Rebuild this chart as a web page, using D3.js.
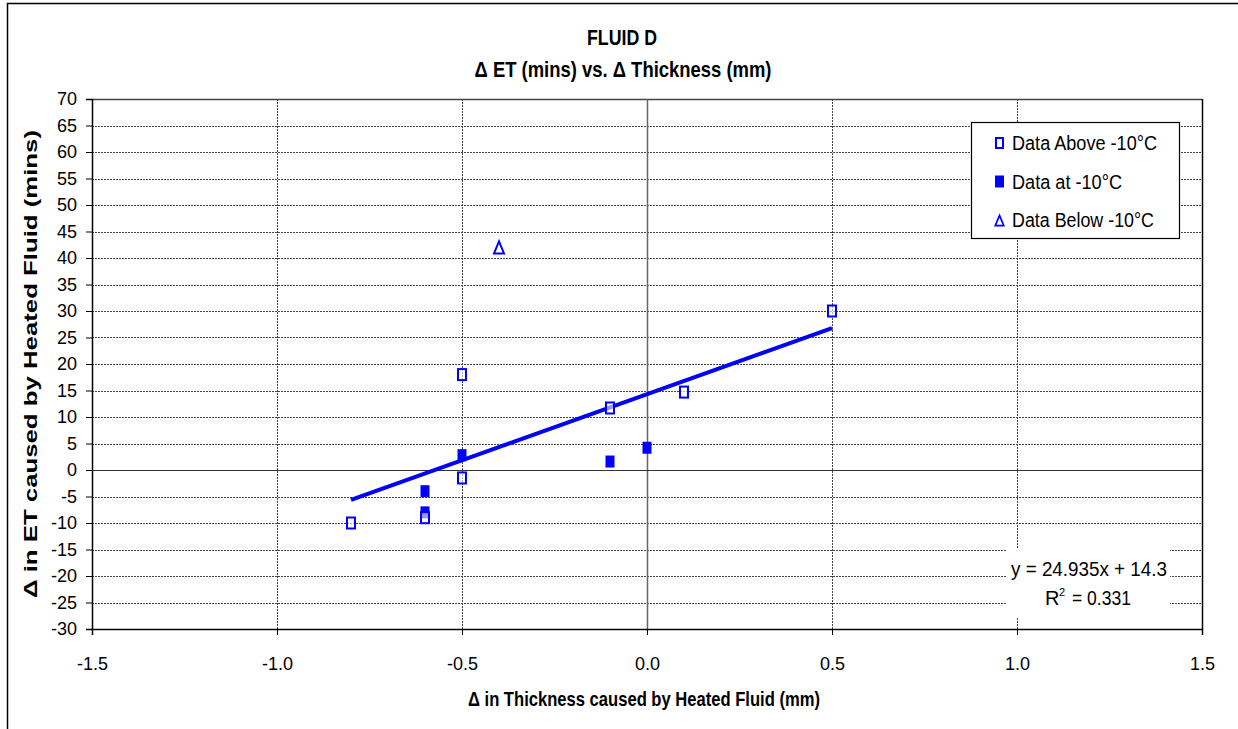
<!DOCTYPE html>
<meta charset="utf-8">
<style>
body { margin: 0; background: #fff; }
svg { font-family: "Liberation Sans", Arial, sans-serif; }
</style>
<script src="https://d3js.org/d3.v7.min.js"></script>
<svg width="1238" height="729"></svg>
<script>
// data
var aboveX = [-0.8, -0.6, -0.5, -0.5, -0.1, 0.1, 0.5],
    aboveY = [-10, -9, 18, -1.5, 11.7, 14.7, 30];
var atX = [-0.6, -0.6, -0.5, -0.1, 0.0],
    atY = [-4, -8, 2.8, 1.6, 4.2];
var belowX = [-0.4],
    belowY = [42];
var xTicks = [-1.5, -1.0, -0.5, 0.0, 0.5, 1.0, 1.5],
    yTicks = d3.range(-30, 71, 5);
var trend = { slope: 24.935, icept: 14.3, r2: 0.331, from: -0.8, to: 0.5 };

var svg = d3.select("svg");
var blue = "#0000ff";

var x = d3.scaleLinear().domain([-1.5, 1.5]).range([92, 1202]),
    y = d3.scaleLinear().domain([-30, 70]).range([629, 99]);

// squeeze text to a given width (the original uses a condensed face)
function fit(sel, w) {
  return sel.attr("textLength", w).attr("lengthAdjust", "spacingAndGlyphs");
}

// outer frame
svg.append("rect").attr("x", 7.5).attr("y", 3.5).attr("width", 1240).attr("height", 740)
    .attr("fill", "none").attr("stroke", "#000").attr("stroke-width", 1.5);

// grid
svg.append("g").selectAll("line").data(yTicks.filter(function(d) { return d != 0 && d != -30; }))
  .enter().append("line")
    .attr("x1", x(-1.5)).attr("x2", x(1.5))
    .attr("y1", function(d) { return Math.round(y(d)) + 0.5; })
    .attr("y2", function(d) { return Math.round(y(d)) + 0.5; })
    .attr("stroke", "#444").attr("stroke-dasharray", "2,1");
svg.append("g").selectAll("line").data(xTicks.filter(function(d) { return d != 0 && d != -1.5 && d != 1.5; }))
  .enter().append("line")
    .attr("y1", y(-30)).attr("y2", y(70))
    .attr("x1", function(d) { return Math.round(x(d)) + 0.5; })
    .attr("x2", function(d) { return Math.round(x(d)) + 0.5; })
    .attr("stroke", "#444").attr("stroke-dasharray", "2,1");

// top border, zero lines, right border
svg.append("line").attr("x1", x(-1.5)).attr("x2", x(1.5)).attr("y1", y(70) + 0.5).attr("y2", y(70) + 0.5)
    .attr("stroke", "#444").attr("stroke-width", 1.5);
svg.append("line").attr("x1", x(0) + 0.5).attr("x2", x(0) + 0.5).attr("y1", y(-30)).attr("y2", y(70))
    .attr("stroke", "#666").attr("stroke-width", 1.5);
svg.append("line").attr("x1", x(-1.5)).attr("x2", x(1.5)).attr("y1", Math.round(y(0)) + 0.5).attr("y2", Math.round(y(0)) + 0.5)
    .attr("stroke", "#333").attr("stroke-width", 1.2);
svg.append("line").attr("x1", x(1.5) + 0.5).attr("x2", x(1.5) + 0.5).attr("y1", y(-30)).attr("y2", y(70))
    .attr("stroke", "#000").attr("stroke-width", 1.5);

// axes
var hy = function(s) { return s.replace("\u2212", "-"); };
var yAxis = svg.append("g").attr("transform", "translate(" + x(-1.5) + ",0)")
    .call(d3.axisLeft(y).tickValues(yTicks).tickSize(6).tickPadding(9)
      .tickFormat(function(d) { return hy(d3.format("d")(d)); }));
var xAxis = svg.append("g").attr("transform", "translate(0," + y(-30) + ")")
    .call(d3.axisBottom(x).tickValues(xTicks).tickSize(6).tickPadding(22)
      .tickFormat(function(d) { return hy(d3.format(".1f")(d)); }));
[xAxis, yAxis].forEach(function(a) {
  a.select(".domain").attr("stroke", "#000").attr("stroke-width", 1.5);
  a.selectAll(".tick line").attr("stroke", "#000");
  a.selectAll("text").attr("font-size", 18).attr("fill", "#000")
      .attr("font-family", "'Liberation Sans', Arial, sans-serif");
});

// equation box
svg.append("rect").attr("x", 1006).attr("y", 549).attr("width", 164).attr("height", 68).attr("fill", "#fff");
fit(svg.append("text").attr("x", 1011).attr("y", 576).attr("font-size", 20)
    .text("y = " + trend.slope + "x + " + trend.icept), 156);
var r = svg.append("text").attr("y", 605).attr("font-size", 20);
r.append("tspan").attr("x", 1045).text("R");
r.append("tspan").attr("x", 1059).attr("font-size", 11).attr("dy", -9).text("2");
fit(r.append("tspan").attr("x", 1072).attr("dy", 9).text("= " + trend.r2), 59);

// trend line
svg.append("line")
    .attr("x1", x(trend.from)).attr("y1", y(trend.slope * trend.from + trend.icept))
    .attr("x2", x(trend.to)).attr("y2", y(trend.slope * trend.to + trend.icept))
    .attr("stroke", blue).attr("stroke-width", 4);

// points
var above = d3.zip(aboveX, aboveY), at = d3.zip(atX, atY), below = d3.zip(belowX, belowY);
svg.append("g").selectAll("rect").data(at).enter().append("rect")
    .attr("x", function(d) { return x(d[0]) - 4.5; }).attr("y", function(d) { return y(d[1]) - 6; })
    .attr("width", 9).attr("height", 12).attr("fill", blue);
svg.append("g").selectAll("rect").data(above).enter().append("rect")
    .attr("x", function(d) { return x(d[0]) - 4; }).attr("y", function(d) { return y(d[1]) - 5.5; })
    .attr("width", 8).attr("height", 11).attr("fill", "#fff").attr("fill-opacity", 0.6)
    .attr("stroke", blue).attr("stroke-width", 2);
var triPath = "M0,-6L5,6L-5,6Z";
svg.append("g").selectAll("path").data(below).enter().append("path")
    .attr("transform", function(d) { return "translate(" + x(d[0]) + "," + y(d[1]) + ")"; })
    .attr("d", triPath).attr("fill", "none").attr("stroke", blue).attr("stroke-width", 2);

// legend
var lg = svg.append("g");
lg.append("rect").attr("x", 971.5).attr("y", 122.5).attr("width", 208).attr("height", 116)
    .attr("fill", "#fff").attr("stroke", "#000").attr("stroke-width", 1.2);
var items = ["Data Above -10\u00b0C", "Data at -10\u00b0C", "Data Below -10\u00b0C"],
    itemW = [145, 110, 142];
items.forEach(function(t, i) {
  var cy = 143 + i * 38.5;
  if (i == 0) lg.append("rect").attr("x", 996).attr("y", cy - 5).attr("width", 7).attr("height", 10)
      .attr("fill", "#fff").attr("stroke", blue).attr("stroke-width", 2);
  if (i == 1) lg.append("rect").attr("x", 995).attr("y", cy - 6).attr("width", 9).attr("height", 12).attr("fill", blue);
  if (i == 2) lg.append("path").attr("transform", "translate(999.5," + (cy + 0.5) + ") scale(0.85)")
      .attr("d", triPath).attr("fill", "none").attr("stroke", blue).attr("stroke-width", 2);
  fit(lg.append("text").attr("x", 1012).attr("y", cy + 7).attr("font-size", 20).text(t), itemW[i]);
});

// titles
fit(svg.append("text").attr("x", 622).attr("y", 45).attr("text-anchor", "middle")
    .attr("font-size", 22).attr("font-weight", "bold").text("FLUID D"), 70);
fit(svg.append("text").attr("x", 623).attr("y", 77).attr("text-anchor", "middle")
    .attr("font-size", 22).attr("font-weight", "bold").text("\u0394 ET (mins) vs. \u0394 Thickness (mm)"), 297);
fit(svg.append("text").attr("x", 644).attr("y", 706).attr("text-anchor", "middle")
    .attr("font-size", 21).attr("font-weight", "bold").text("\u0394 in Thickness caused by Heated Fluid (mm)"), 352);
fit(svg.append("text").attr("transform", "translate(37,364) rotate(-90)").attr("text-anchor", "middle")
    .attr("font-size", 19).attr("font-weight", "bold")
    .text("\u0394 in ET caused by Heated Fluid (mins)"), 468);
</script>
